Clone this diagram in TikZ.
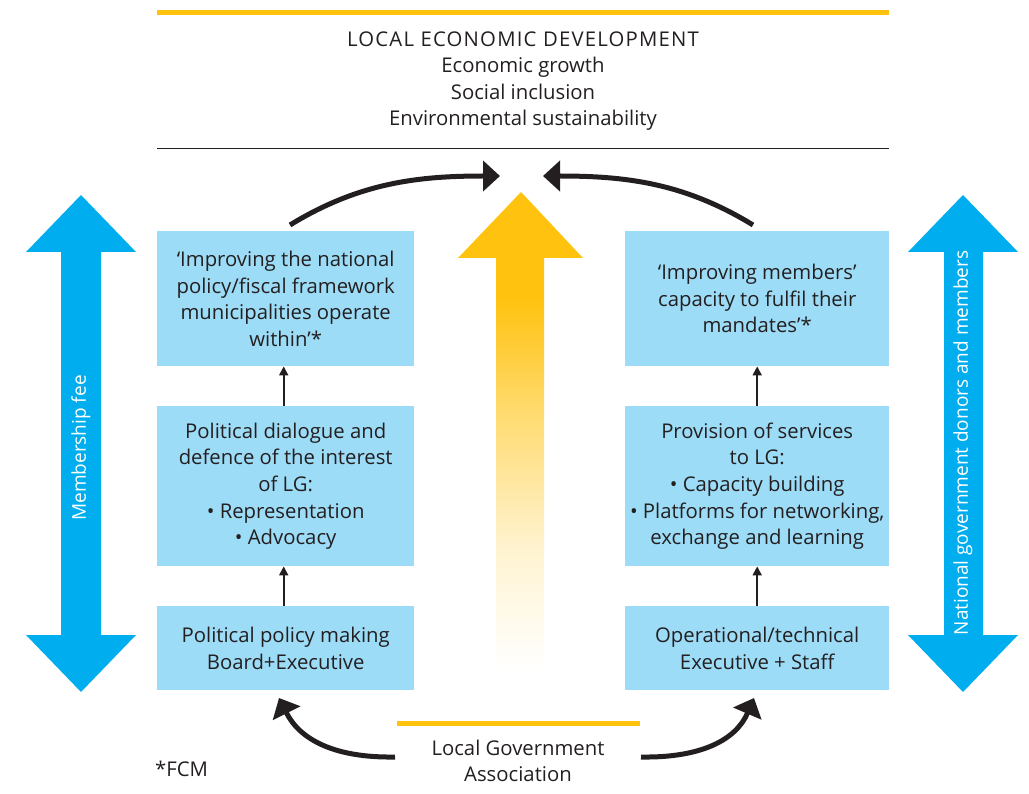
\documentclass[tikz,border=0pt]{standalone}
\usepackage{fontspec}
\setmainfont{Open Sans}
\usetikzlibrary{arrows.meta}
\definecolor{lgyellow}{RGB}{255,194,14}
\definecolor{lgblue}{RGB}{0,174,239}
\definecolor{lgbox}{RGB}{157,220,247}
\definecolor{lgblack}{RGB}{35,31,32}
\pgfdeclareverticalshading{yfade}{100bp}{color(0bp)=(white); color(25bp)=(white); color(38bp)=(lgyellow!20); color(52bp)=(lgyellow!60); color(64bp)=(lgyellow); color(100bp)=(lgyellow)}
\newcommand{\lgfont}{\fontsize{20.3}{26.6}\selectfont}
\newcommand{\lgsidefont}{\fontsize{19}{24}\selectfont}
\begin{document}
\begin{tikzpicture}[x=1pt,y=-1pt,
  txt/.style={font=\lgfont, text=lgblack, align=center, inner sep=0pt},
  lbox/.style={fill=lgbox, anchor=north west, minimum width=257pt, inner sep=0pt, align=center, font=\lgfont, text=lgblack},
  rbox/.style={lbox, minimum width=264pt},
  smallarrow/.style={draw=lgblack, line width=1.8pt, -{Triangle[length=9pt,width=9pt]}},
  curvearrow/.style={draw=lgblack, line width=5pt, -{Triangle[length=17pt,width=30pt]}},
  bluearrow/.style={fill=lgblue, draw=none},
  sidetext/.style={font=\lgsidefont, text=white, rotate=90, inner sep=0pt}]
\useasboundingbox (0,0) rectangle (1029,794);
% top lines
\draw[lgyellow, line width=5pt] (157,13) -- (889,13);
\draw[lgblack, line width=1pt] (157,149) -- (889,149);
\node[txt] (title) at (523,81) {{\addfontfeature{LetterSpace=6}LOCAL ECONOMIC DEVELOPMENT}\\Economic growth\\Social inclusion\\Environmental sustainability};
% side arrows
\fill[bluearrow] (81,195) -- (136,252) -- (101,252) -- (101,635) -- (136,635) -- (81,692) -- (26,635) -- (61,635) -- (61,252) -- (26,252) -- cycle;
\node[sidetext] (mfee) at (81,448) {Membership fee};
\fill[bluearrow] (963,195) -- (1018,252) -- (983,252) -- (983,635) -- (1018,635) -- (963,692) -- (908,635) -- (944,635) -- (944,252) -- (908,252) -- cycle;
\node[sidetext] (donors) at (963,443) {National government donors and members};
% central yellow arrow
\shade[shading=yfade] (521,192) -- (583,258) -- (544,258) -- (544,670) -- (496,670) -- (496,258) -- (458,258) -- cycle;
% boxes
\node[lbox, minimum height=135pt] (L1) at (157,231) {‘Improving the national\\policy/fiscal framework\\municipalities operate\\within’*};
\node[lbox, minimum height=160pt] (L2) at (157,406) {Political dialogue and\\defence of the interest\\of LG:\\• Representation\\• Advocacy};
\node[lbox, minimum height=84pt] (L3) at (157,606) {Political policy making\\Board+Executive};
\node[rbox, minimum height=135pt] (R1) at (625,231) {‘Improving members’\\capacity to fulfil their\\mandates’*};
\node[rbox, minimum height=160pt] (R2) at (625,406) {Provision of services\\to LG:\\• Capacity building\\• Platforms for networking,\\exchange and learning};
\node[rbox, minimum height=84pt] (R3) at (625,606) {Operational/technical\\Executive + Staff};
% small arrows
\draw[smallarrow] ([xshift=-2pt]L2.north) -- ([xshift=-2pt]L1.south);
\draw[smallarrow] ([xshift=-2pt]L3.north) -- ([xshift=-2pt]L2.south);
\draw[smallarrow] (R2.north) -- (R1.south);
\draw[smallarrow] (R3.north) -- (R2.south);
% top curved arrows
\coordinate (tls) at (290,225);
\coordinate (tlt) at (500,176);
\coordinate (trs) at (753,225);
\coordinate (trt) at (543,176);
\draw[curvearrow] (tls) .. controls (360,182) and (420,176) .. (tlt);
\draw[curvearrow] (trs) .. controls (683,182) and (623,176) .. (trt);
% bottom
\draw[lgyellow, line width=5pt] (397,723) -- (640,723);
\node[txt] (lga) at (518,761) {Local Government\\Association};
\coordinate (bls) at (395,757);
\coordinate (blt) at (279,698);
\coordinate (brs) at (641,757);
\coordinate (brt) at (754,698);
\draw[curvearrow] (bls) .. controls (335,758) and (300,740) .. (blt);
\draw[curvearrow] (brs) .. controls (701,758) and (736,740) .. (brt);
\node[txt, anchor=base west] (fcm) at (155,776) {*FCM};
\end{tikzpicture}
\end{document}
